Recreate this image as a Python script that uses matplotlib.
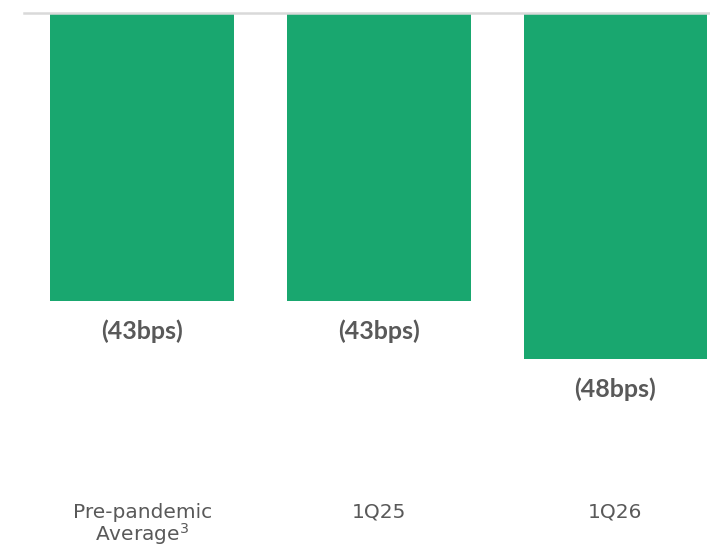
import matplotlib

matplotlib.use("Agg")

import matplotlib.pyplot as plt
import numpy as np


GREEN = "#19A76F"
TEXT = "#595959"
LINE = "#D9D9D9"

categories = ["Pre-pandemic\nAverage$^3$", "1Q25", "1Q26"]
values = [-43, -43, -48]
labels = ["(43bps)", "(43bps)", "(48bps)"]

plt.rcParams.update({"font.family": ["DejaVu Sans"], "mathtext.fontset": "dejavusans"})

fig = plt.figure(figsize=(7.1, 5.53), dpi=100)
ax = fig.add_axes([24 / 710, 1 - 500 / 553, 1 - 24 / 710, (500 - 13) / 553])

x = np.arange(len(categories))
ax.bar(x, values, width=0.776, color=GREEN, zorder=2)

for xi, v, lab in zip(x, values, labels):
    ax.text(xi, v - 2.6, lab, ha="center", va="center",
            fontsize=18, fontweight="bold", color=TEXT, family=["Lato", "DejaVu Sans"])

ax.set_xlim(-0.5, 2.4)
ax.set_ylim(-60.15, -18.17)

ax.set_xticks(x, categories)
ax.tick_params(axis="x", length=0, pad=2, labelsize=14.5, labelcolor=TEXT)
for t in ax.get_xticklabels():
    t.set_verticalalignment("top")
    t.set_multialignment("center")
    t.set_linespacing(0.95)
ax.set_yticks([])

for side in ["left", "right", "bottom"]:
    ax.spines[side].set_visible(False)
ax.spines["top"].set_color(LINE)
ax.spines["top"].set_linewidth(1.8)
ax.spines["top"].set_zorder(3)

fig.savefig("out.png", dpi=100)
